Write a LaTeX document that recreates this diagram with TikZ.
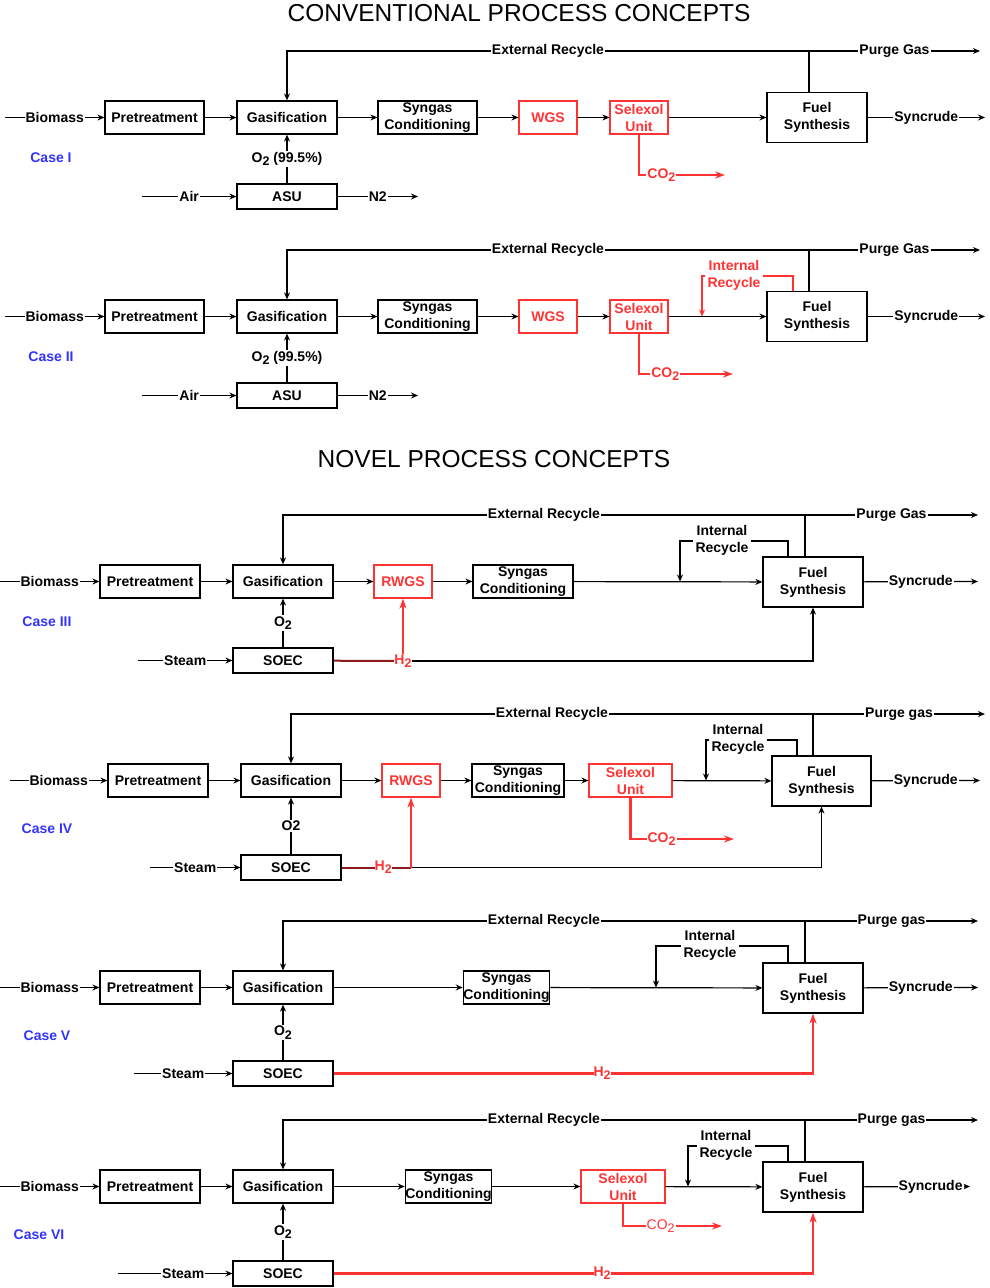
\documentclass[tikz,border=0pt]{standalone}
\usepackage{fontspec}
\setmainfont{Liberation Sans}
\usetikzlibrary{arrows.meta}

\definecolor{rd}{HTML}{FF3333}
\definecolor{dkrd}{HTML}{8B1A1A}
\definecolor{bl}{HTML}{3333FF}
\newcommand\dn[1]{\raisebox{-0.45ex}{\fontsize{12.5}{13}\selectfont#1}}

\begin{document}
\begin{tikzpicture}
[-,x=1pt,y=-1pt,line width=1.2pt,>={Stealth[length=7pt,width=6pt]},%
  every node/.style={font=\fontsize{14}{17}\selectfont\bfseries,align=center},%
  box/.style={rectangle,draw,line width=1.2pt,fill=white,minimum height=33,minimum width=100,inner sep=0pt},%
  rbox/.style={box,draw=rd,text=rd},%
  fbox/.style={box,minimum height=50},%
  sbox/.style={box,minimum height=25},%
  lbl/.style={fill=white,inner sep=1pt},%
  rlbl/.style={lbl,text=rd},%
  case/.style={text=bl},%
  ttl/.style={font=\fontsize{24.5}{28}\selectfont},%
  rl/.style={rd,line width=2.2pt,>={Stealth[length=10pt,width=7pt]}}]
\useasboundingbox (0,0) rectangle (989,1288);

\node[ttl] (t1) at (519,13) {CONVENTIONAL PROCESS CONCEPTS};
\node[box,minimum width=99] (p1) at (154.5,117.5) {Pretreatment};
\node[box] (g1) at (287,117.5) {Gasification};
\node[box,minimum width=99] (s1) at (427.5,117.5) {Syngas\\Conditioning};
\node[rbox,minimum width=58] (w1) at (548,117.5) {WGS};
\node[rbox,minimum width=58] (x1) at (639,117.5) {Selexol\\Unit};
\node[fbox] (f1) at (817,117.5) {Fuel\\Synthesis};
\node[sbox] (a1) at (287,196.5) {ASU};
\coordinate (b1) at (5,117.5);
\coordinate (y1) at (985,117.5);
\coordinate (e1) at (809,51);
\coordinate (q1) at (980,51);
\coordinate (i1) at (142,196.5);
\coordinate (n1) at (418,196.5);
\coordinate (c1) at (725,175);
\draw[->] (b1) -- node[lbl] {Biomass} (p1);
\draw[->] (p1) -- (g1);
\draw[->] (g1) -- (s1);
\draw[->] (s1) -- (w1);
\draw[->] (w1) -- (x1);
\draw[->] (x1) -- (f1);
\draw[->] (f1) -- node[lbl] {Syncrude} (y1);
\draw (f1.north -| e1) -- (e1);
\draw[->] (e1) -| node[lbl,pos=0.25] {External Recycle} (g1);
\draw[->] (e1) -- node[lbl] {Purge Gas} (q1);
\draw[->] (a1) -- node[lbl] {O\dn{2} (99.5\%)} (g1);
\draw[->] (i1) -- node[lbl] {Air} (a1);
\draw[->] (a1) -- node[lbl] {N2} (n1);
\draw[->,rl] (x1) |- node[rlbl,pos=0.63] {CO\dn{2}} (c1);
\node[case] at (51,158) {Case I};

\node[box,minimum width=99] (p2) at (154.5,316.5) {Pretreatment};
\node[box] (g2) at (287,316.5) {Gasification};
\node[box,minimum width=99] (s2) at (427.5,316.5) {Syngas\\Conditioning};
\node[rbox,minimum width=58] (w2) at (548,316.5) {WGS};
\node[rbox,minimum width=58] (x2) at (639,316.5) {Selexol\\Unit};
\node[fbox] (f2) at (817,316.5) {Fuel\\Synthesis};
\node[sbox] (a2) at (287,395.5) {ASU};
\coordinate (b2) at (5,316.5);
\coordinate (y2) at (985,316.5);
\coordinate (e2) at (809,250);
\coordinate (q2) at (980,250);
\coordinate (i2) at (142,395.5);
\coordinate (n2) at (418,395.5);
\coordinate (c2) at (733,374);
\coordinate (r2) at (793,276);
\coordinate (k2) at (702,316.5);
\draw[->] (b2) -- node[lbl] {Biomass} (p2);
\draw[->] (p2) -- (g2);
\draw[->] (g2) -- (s2);
\draw[->] (s2) -- (w2);
\draw[->] (w2) -- (x2);
\draw[->] (x2) -- (f2);
\draw[->] (f2) -- node[lbl] {Syncrude} (y2);
\draw (f2.north -| e2) -- (e2);
\draw[->] (e2) -| node[lbl,pos=0.25] {External Recycle} (g2);
\draw[->] (e2) -- node[lbl] {Purge Gas} (q2);
\draw[->] (a2) -- node[lbl] {O\dn{2} (99.5\%)} (g2);
\draw[->] (i2) -- node[lbl] {Air} (a2);
\draw[->] (a2) -- node[lbl] {N2} (n2);
\draw[->,rl] (x2) |- node[rlbl,pos=0.64] {CO\dn{2}} (c2);
\draw[->,rd,line width=1.5pt] (f2.north -| r2) -- (r2) -| (k2);
\node[rlbl,inner sep=3pt] at (734,275) {Internal\\Recycle};
\node[case] at (51,357) {Case II};

\node[ttl] (t2) at (494,459) {NOVEL PROCESS CONCEPTS};
\node[box] (p3) at (150,581.5) {Pretreatment};
\node[box] (g3) at (283,581.5) {Gasification};
\node[rbox,minimum width=58] (w3) at (403,581.5) {RWGS};
\node[box] (s3) at (523,581.5) {Syngas\\Conditioning};
\node[fbox] (f3) at (813,582) {Fuel\\Synthesis};
\node[sbox] (o3) at (283,660.5) {SOEC};
\coordinate (b3) at (0,581.5);
\coordinate (y3) at (978,581.5);
\coordinate (e3) at (805,515);
\coordinate (q3) at (978,515);
\coordinate (i3) at (138,660.5);
\coordinate (r3) at (788,541);
\coordinate (k3) at (680,581.5);
\draw[->] (b3) -- node[lbl] {Biomass} (p3);
\draw[->] (p3) -- (g3);
\draw[->] (g3) -- (w3);
\draw[->] (w3) -- (s3);
\draw[->] (s3) -- (f3);
\draw[->] (f3) -- node[lbl] {Syncrude} (y3);
\draw (f3.north -| e3) -- (e3);
\draw[->] (e3) -| node[lbl,pos=0.25] {External Recycle} (g3);
\draw[->] (e3) -- node[lbl] {Purge Gas} (q3);
\draw[->] (f3.north -| r3) -- (r3) -| (k3);
\node[lbl,inner sep=3pt] at (722,540.5) {Internal\\Recycle};
\draw[->] (o3) -- node[lbl] {O\dn{2}} (g3);
\draw[->] (i3) -- node[lbl] {Steam} (o3);
\node[rlbl,inner sep=0pt] (h3) at (403,661) {H\dn{2}};
\draw[dkrd,line width=2pt] (o3) -- (h3);
\draw[->] (h3) -| (f3);
\draw[->,rl] (h3) -- (w3);
\node[case] at (47,622) {Case III};

\node[box] (p4) at (158,780.5) {Pretreatment};
\node[box] (g4) at (291,780.5) {Gasification};
\node[rbox,minimum width=58] (w4) at (411,780.5) {RWGS};
\node[box,minimum width=92] (s4) at (518,780.5) {Syngas\\Conditioning};
\node[rbox,minimum width=83] (x4) at (630.5,780.5) {Selexol\\Unit};
\node[fbox,minimum width=99] (f4) at (821.5,781) {Fuel\\Synthesis};
\node[sbox] (o4) at (291,867.5) {SOEC};
\coordinate (b4) at (10,780.5);
\coordinate (y4) at (980,780.5);
\coordinate (e4) at (813,714);
\coordinate (q4) at (985,714);
\coordinate (i4) at (150,867.5);
\coordinate (r4) at (797,740);
\coordinate (k4) at (706,780.5);
\coordinate (c4) at (734,839);
\coordinate (j4) at (411,867.5);
\draw[->] (b4) -- node[lbl] {Biomass} (p4);
\draw[->] (p4) -- (g4);
\draw[->] (g4) -- (w4);
\draw[->] (w4) -- (s4);
\draw[->] (s4) -- (x4);
\draw[->] (x4) -- (f4);
\draw[->] (f4) -- node[lbl] {Syncrude} (y4);
\draw (f4.north -| e4) -- (e4);
\draw[->] (e4) -| node[lbl,pos=0.25] {External Recycle} (g4);
\draw[->] (e4) -- node[lbl] {Purge gas} (q4);
\draw[->] (f4.north -| r4) -- (r4) -| (k4);
\node[lbl,inner sep=3pt] at (738,739.5) {Internal\\Recycle};
\draw[->,rl] (x4) |- node[rlbl,pos=0.65] {CO\dn{2}} (c4);
\draw[->] (o4) -- node[lbl] {O2} (g4);
\draw[->] (i4) -- node[lbl] {Steam} (o4);
\draw[dkrd,line width=2pt] (o4) -- node[rlbl,pos=0.6,inner sep=0pt] {H\dn{2}} (j4);
\draw[->] (j4) -| (f4);
\draw[->,rl] (j4) -- (w4);
\node[case] at (47,829) {Case IV};

\node[box] (p5) at (150,987.5) {Pretreatment};
\node[box] (g5) at (283,987.5) {Gasification};
\node[box,minimum width=83] (s5) at (506.5,987.5) {Syngas\\Conditioning};
\node[fbox] (f5) at (813,988) {Fuel\\Synthesis};
\node[sbox] (o5) at (283,1073.5) {SOEC};
\coordinate (b5) at (0,987.5);
\coordinate (y5) at (978,987.5);
\coordinate (e5) at (805,921);
\coordinate (q5) at (978,921);
\coordinate (i5) at (134,1073.5);
\coordinate (r5) at (788,946);
\coordinate (k5) at (656,987.5);
\draw[->] (b5) -- node[lbl] {Biomass} (p5);
\draw[->] (p5) -- (g5);
\draw[->] (g5) -- (s5);
\draw[->] (s5) -- (f5);
\draw[->] (f5) -- node[lbl] {Syncrude} (y5);
\draw (f5.north -| e5) -- (e5);
\draw[->] (e5) -| node[lbl,pos=0.25] {External Recycle} (g5);
\draw[->] (e5) -- node[lbl] {Purge gas} (q5);
\draw[->] (f5.north -| r5) -- (r5) -| (k5);
\node[lbl,inner sep=3pt] at (710,945.5) {Internal\\Recycle};
\draw[->] (o5) -- node[lbl] {O\dn{2}} (g5);
\draw[->] (i5) -- node[lbl] {Steam} (o5);
\draw[->,rl] (o5) -| node[rlbl,pos=0.28,inner sep=0pt] {H\dn{2}} (f5);
\node[case] at (47,1036) {Case V};

\node[box] (p6) at (150,1186.5) {Pretreatment};
\node[box] (g6) at (283,1186.5) {Gasification};
\node[box,minimum width=83] (s6) at (448.5,1186.5) {Syngas\\Conditioning};
\node[rbox,minimum width=84] (x6) at (623,1186.5) {Selexol\\Unit};
\node[fbox] (f6) at (813,1187) {Fuel\\Synthesis};
\node[sbox] (o6) at (283,1273.5) {SOEC};
\coordinate (b6) at (0,1186.5);
\coordinate (y6) at (970,1186.5);
\coordinate (e6) at (805,1120);
\coordinate (q6) at (978,1120);
\coordinate (i6) at (118,1273.5);
\coordinate (r6) at (788,1146);
\coordinate (k6) at (688,1186.5);
\coordinate (c6) at (722,1226);
\draw[->] (b6) -- node[lbl] {Biomass} (p6);
\draw[->] (p6) -- (g6);
\draw[->] (g6) -- (s6);
\draw[->] (s6) -- (x6);
\draw[->] (x6) -- (f6);
\draw[->] (f6) -- node[lbl,pos=0.63] {Syncrude} (y6);
\draw (f6.north -| e6) -- (e6);
\draw[->] (e6) -| node[lbl,pos=0.25] {External Recycle} (g6);
\draw[->] (e6) -- node[lbl] {Purge gas} (q6);
\draw[->] (f6.north -| r6) -- (r6) -| (k6);
\node[lbl,inner sep=3pt] at (726,1145) {Internal\\Recycle};
\draw[->,rl] (x6) |- node[rlbl,pos=0.69,font=\fontsize{14}{17}\selectfont] {CO\dn{2}} (c6);
\draw[->] (o6) -- node[lbl] {O\dn{2}} (g6);
\draw[->] (i6) -- node[lbl,pos=0.57] {Steam} (o6);
\draw[->,rl] (o6) -| node[rlbl,pos=0.28,inner sep=0pt] {H\dn{2}} (f6);
\node[case] at (39,1235) {Case VI};
\end{tikzpicture}
\end{document}
